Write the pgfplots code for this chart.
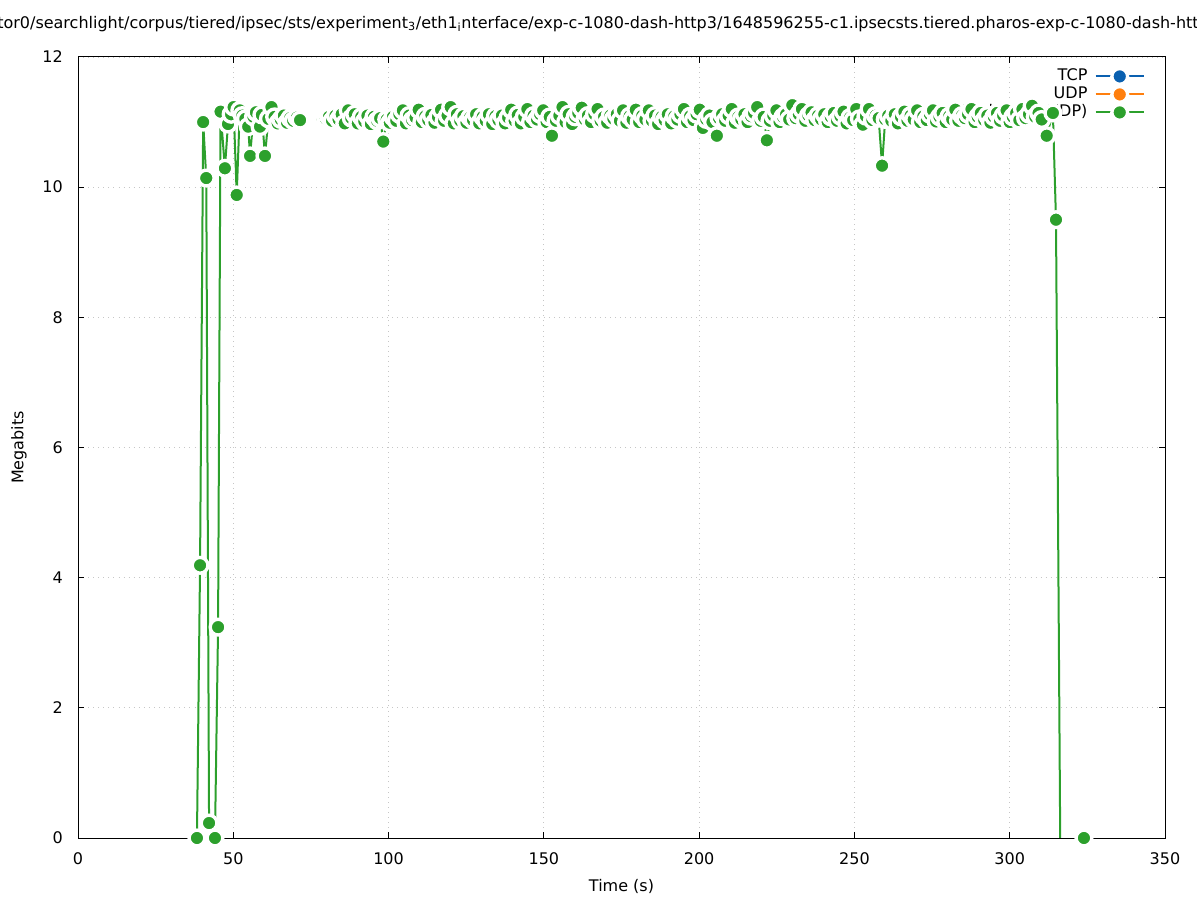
\documentclass[border=0pt]{standalone}
\usepackage{fontspec}
\setmainfont{DejaVu Sans}
\usepackage{pgfplots}
\usepackage{pgfplotstable}
\pgfplotsset{compat=1.18}
\definecolor{tabgreen}{HTML}{2CA02C}
\definecolor{tcpblue}{HTML}{0A60B0}
\definecolor{udporange}{HTML}{FF7F0E}
\pgfplotsset{
 layers/legendbehind/.define layer set={axis background,axis grid,axis ticks,axis lines,axis tick labels,axis descriptions,pre main,main,axis foreground}{
   grid style={/pgfplots/on layer=axis grid},
   tick style={/pgfplots/on layer=axis ticks},
   axis line style={/pgfplots/on layer=axis lines},
   label style={/pgfplots/on layer=axis descriptions},
   legend style={/pgfplots/on layer=axis descriptions},
   title style={/pgfplots/on layer=axis descriptions},
   colorbar style={/pgfplots/on layer=axis descriptions},
   ticklabel style={/pgfplots/on layer=axis tick labels},
   axis background@ style={/pgfplots/on layer=axis background},
   3d box foreground style={/pgfplots/on layer=axis foreground},
 },
}
\pgfplotstableread{
x y
38.3 0
39.3 4.19
40.3 11.00
41.3 10.14
42.2 0.23
44.1 0
45.1 3.24
45.9 11.16
47.3 10.29
48.3 10.97
49.3 11.12
50.1 11.23
51.1 9.88
52.1 11.18
52.9 11.10
53.9 11.05
54.8 10.93
55.4 10.48
56.5 11.08
57.3 11.15
58.6 10.93
59.2 11.11
60.2 10.48
61.3 11.05
62.3 11.23
63.3 11.08
64.3 10.98
65.3 11.04
66.3 11.10
67.3 10.99
68.3 11.06
69.3 11.02
70.5 11.07
71.5 11.03
75.0 nan
78.8 11.04
79.8 11.05
80.8 11.08
81.8 11.02
82.9 11.10
83.9 11.04
84.9 11.12
85.9 10.98
87.0 11.18
88.0 11.06
89.1 11.12
90.1 10.98
91.2 11.08
92.2 11.01
93.2 11.10
94.3 10.97
95.3 11.08
96.3 11.02
97.3 11.06
98.3 10.70
99.4 11.04
100.4 10.99
101.4 11.08
102.5 11.02
103.5 11.12
104.6 11.18
105.6 10.98
106.6 11.10
107.6 11.03
108.7 11.07
109.7 11.19
110.7 11.00
111.8 11.09
112.8 11.03
113.8 11.11
114.8 10.99
115.9 11.08
116.9 11.19
117.9 11.02
119.0 11.10
120.0 11.23
121.0 10.98
122.0 11.12
123.1 11.02
124.1 11.09
125.1 10.99
126.2 11.07
127.2 11.03
128.2 11.12
129.2 10.98
130.3 11.08
131.3 11.02
132.3 11.12
133.4 10.97
134.4 11.09
135.4 11.03
136.5 11.10
137.5 10.98
138.5 11.07
139.5 11.19
140.6 11.02
141.6 11.11
142.6 10.98
143.7 11.08
144.7 11.20
145.7 11.00
146.7 11.10
147.8 11.04
148.8 11.12
149.8 11.18
150.9 11.00
151.9 11.08
152.6 10.79
153.9 11.02
155.0 11.10
156.0 11.23
157.0 11.00
158.0 11.12
159.1 10.97
160.1 11.08
161.1 11.14
162.2 11.22
163.2 11.04
164.2 11.10
165.2 11.00
166.3 11.12
167.3 11.20
168.3 11.02
169.4 11.08
170.4 10.99
171.4 11.10
172.4 11.05
173.5 11.12
174.5 11.02
175.5 11.18
176.6 10.99
177.6 11.09
178.6 11.04
179.6 11.19
180.7 11.00
181.7 11.10
182.7 11.04
183.8 11.18
184.8 11.02
185.8 11.10
186.8 10.97
187.9 11.08
188.9 11.03
189.9 11.12
191.0 10.98
192.0 11.09
193.0 11.04
194.0 11.12
195.1 11.20
196.1 11.00
197.1 11.09
198.2 11.03
199.2 11.12
200.2 11.19
201.2 10.91
202.3 11.04
203.3 11.10
204.3 11.00
205.7 10.79
206.4 11.06
207.4 11.12
208.4 11.02
209.5 11.10
210.5 11.20
211.5 10.99
212.6 11.08
213.6 11.04
214.6 11.12
215.6 11.00
216.7 11.09
217.7 11.14
218.7 11.23
219.8 11.02
220.8 11.08
221.8 10.72
222.8 11.02
223.9 11.10
224.9 11.18
225.9 11.00
227.0 11.08
228.0 11.12
229.0 11.04
230.0 11.26
231.1 11.06
232.1 11.12
233.1 11.20
234.2 11.02
235.2 11.10
236.2 11.15
237.2 11.03
238.3 11.10
239.3 11.04
240.3 11.12
241.4 11.00
242.4 11.08
243.4 11.14
244.4 11.02
245.5 11.09
246.5 11.16
247.5 10.98
248.6 11.07
249.6 11.03
250.6 11.20
251.6 11.05
252.7 10.96
253.7 11.09
254.7 11.20
255.8 11.03
256.8 11.10
257.8 11.06
258.9 10.33
259.9 11.04
260.9 11.10
261.9 11.02
263.0 11.12
264.0 10.98
265.0 11.08
266.1 11.16
267.1 11.02
268.1 11.10
269.1 11.04
270.2 11.18
271.2 11.00
272.2 11.09
273.3 11.03
274.3 11.12
275.3 11.18
276.3 11.01
277.4 11.08
278.4 11.14
279.4 11.00
280.5 11.09
281.5 11.04
282.5 11.19
283.5 11.02
284.6 11.10
285.6 11.06
286.6 11.12
287.7 11.20
288.7 11.00
289.7 11.08
290.7 11.14
291.8 11.03
292.8 11.10
293.8 10.99
294.9 11.08
295.9 11.14
296.9 11.02
297.9 11.10
299.0 11.18
300.0 11.00
301.0 11.08
302.1 11.14
303.1 11.03
304.1 11.20
305.1 11.06
306.2 11.12
307.2 11.25
308.2 11.08
309.3 11.14
310.3 11.04
311.9 10.79
313.9 11.14
314.9 9.50
316.3 -0.3
323.9 0
}\datatable
\begin{document}
\begin{tikzpicture}[font=\fontsize{12bp}{14.4bp}\selectfont]
\begin{axis}[
  set layers=legendbehind,
  at={(0,0)}, anchor=south west,
  scale only axis,
  width=815.25bp, height=585.75bp,
  xmin=0, xmax=350, ymin=0, ymax=12,
  xtick={0,50,...,350}, ytick={0,2,...,12},
  tick align=inside,
  major tick length=4.5bp,
  tick style={black, line width=0.75bp},
  axis line style={black, line width=0.75bp},
  /pgf/number format/assume math mode=true,
  xticklabel style={inner sep=0pt, anchor=north, yshift=-10.5bp},
  yticklabel style={inner sep=0pt, anchor=east, xshift=-11.25bp},
  grid=major,
  major grid style={gray!45, line width=0.6bp, dash pattern=on 0.6bp off 3.2bp},
  xlabel={Time (s)},
  ylabel={Megabits},
  xlabel style={at={(axis description cs:0.5,-0.0615)}, anchor=center, inner sep=0pt},
  ylabel style={at={(axis description cs:-0.0543,0.5)}, anchor=center, inner sep=0pt},
  title={\llap{/home/collec}tor0/searchlight/corpus/tiered/ipsec/sts/experiment\textsubscript{3}/eth1\textsubscript{i}nterface/exp-c-1080-dash-http3/1648596255-c1.ipsecsts.tiered.pharos-exp-c-1080-dash-http3-eth1.pcap.csv},
  title style={at={(axis description cs:-0.0745,1.0269)}, anchor=base west, inner sep=0pt},
  clip mode=individual,
  legend cell align=right,
  legend plot pos=right,
  legend style={at={(axis description cs:0.9816,0.9857)}, anchor=north east, draw=none, fill=none, inner sep=0pt,
    row sep=1.5bp, column sep=5.5bp,
    nodes={inner sep=0pt, text height=9bp, text depth=3bp}},
  legend image code/.code={\draw[mark repeat=2,mark phase=2,#1] plot coordinates {(0bp,0bp) (18bp,0bp) (36bp,0bp)};},
]
\addlegendimage{tcpblue, line width=1.5bp, mark=*, mark size=5.9bp, mark options={fill=tcpblue, draw=white, line width=2.5bp}}
\addlegendentry{TCP}
\addlegendimage{udporange, line width=1.5bp, mark=*, mark size=5.9bp, mark options={fill=udporange, draw=white, line width=2.5bp}}
\addlegendentry{UDP}
\addlegendimage{tabgreen, line width=1.5bp, mark=*, mark size=5.9bp, mark options={fill=tabgreen, draw=white, line width=2.5bp}}
\addlegendentry{Total (TCP+UDP)}
\addplot[forget plot, tabgreen, line width=1.5bp, mark=none, unbounded coords=jump] table[x=x, y=y] {\datatable};
\addplot[forget plot, only marks, restrict y to domain=-0.1:13, mark=*, mark size=5.9bp,
  mark options={fill=tabgreen, draw=white, line width=2.5bp}] table[x=x, y=y] {\datatable};
\end{axis}
\pgfresetboundingbox
\useasboundingbox (-58.5bp,-46.5bp) rectangle (839.25bp,628.5bp);
\end{tikzpicture}
\end{document}
